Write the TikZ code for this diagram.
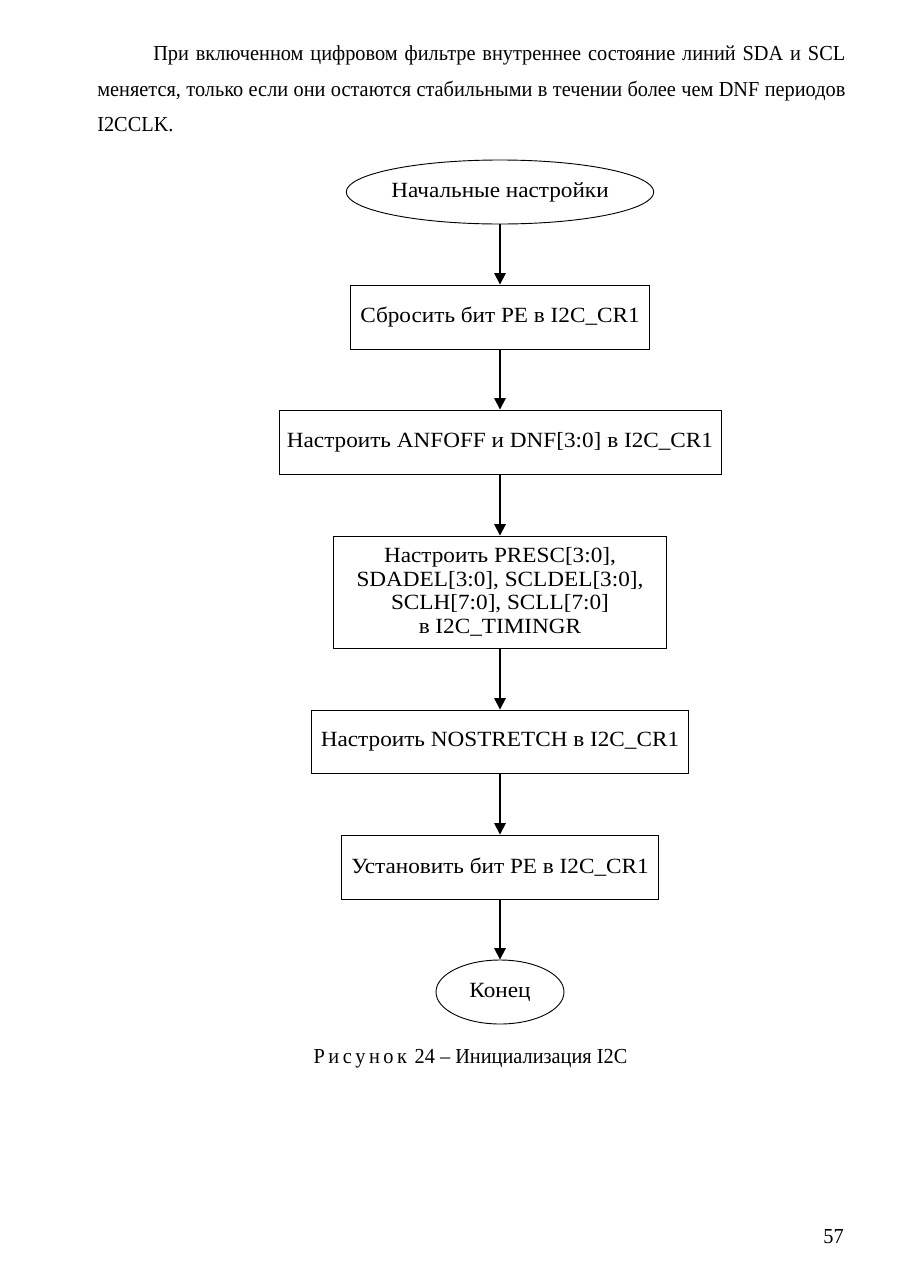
\documentclass[tikz,border=0pt]{standalone}
\usepackage{fontspec}
\setmainfont{Liberation Serif}
\newfontfamily\pagefont[FakeStretch=0.95]{Liberation Serif}
\newfontfamily\flowfont[FakeStretch=1.07]{Liberation Serif}
\usetikzlibrary{shapes.geometric,arrows.meta}
\newcommand\pxu{0.6545pt}
\tikzset{
  pagetext/.style={font=\pagefont\fontsize{14}{17}\selectfont, inner sep=0pt},
  flowbox/.style={draw, line width=0.6pt, rectangle, inner sep=0pt, align=center,
    font=\flowfont\fontsize{14.2}{15.4}\selectfont},
  flowoval/.style={draw, line width=0.6pt, ellipse, inner sep=0pt,
    font=\flowfont\fontsize{14.2}{15.4}\selectfont},
  flowarrow/.style={line width=1.1pt, -{Triangle[length=7.5pt,width=7.5pt]}}
}
\begin{document}
\begin{tikzpicture}[x=0.6545pt,y=-0.6545pt]
\useasboundingbox[fill=white] (0,0) rectangle (910,1287);

% paragraph
\node[pagetext, anchor=base west] (p1) at (153,60)
  {\makebox[452.9pt][s]{При включенном цифровом фильтре внутреннее состояние линий SDA и SCL}};
\node[pagetext, anchor=base west] (p2) at (97,96)
  {\makebox[489.6pt][s]{меняется, только если они остаются стабильными в течении более чем DNF периодов}};
\node[pagetext, anchor=base west] (p3) at (97,131) {I2CCLK.};

% flowchart
\node[flowoval, minimum width=305*\pxu, minimum height=64*\pxu] (start) at (500,192) {Начальные настройки};
\node[flowbox, minimum width=299*\pxu, minimum height=64*\pxu] (b1) at (500,317) {Сбросить бит PE в I2C\_CR1};
\node[flowbox, minimum width=442*\pxu, minimum height=64*\pxu] (b2) at (500,442) {Настроить ANFOFF и DNF[3:0] в I2C\_CR1};
\node[flowbox, minimum width=333*\pxu, minimum height=112*\pxu] (b3) at (500,592)
  {Настроить PRESC[3:0],\\ SDADEL[3:0], SCLDEL[3:0],\\ SCLH[7:0], SCLL[7:0]\\ в I2C\_TIMINGR};
\node[flowbox, minimum width=377*\pxu, minimum height=63*\pxu] (b4) at (500,741.5) {Настроить NOSTRETCH в I2C\_CR1};
\node[flowbox, minimum width=317*\pxu, minimum height=64*\pxu] (b5) at (500,867) {Установить бит PE в I2C\_CR1};
\node[flowoval, minimum width=128*\pxu, minimum height=64*\pxu] (end) at (500,992) {Конец};

\draw[flowarrow] (start) -- (b1);
\draw[flowarrow] (b1) -- (b2);
\draw[flowarrow] (b2) -- (b3);
\draw[flowarrow] (b3) -- (b4);
\draw[flowarrow] (b4) -- (b5);
\draw[flowarrow] (b5) -- (end);

% caption
\node[pagetext, anchor=base] (cap) at (470.5,1063)
  {Р\hspace{2.3pt}и\hspace{2.3pt}с\hspace{2.3pt}у\hspace{2.3pt}н\hspace{2.3pt}о\hspace{2.3pt}к\hspace{5pt}24 – Инициализация I2C};

% page number
\node[pagetext, anchor=base east] (pg) at (844,1243) {57};
\end{tikzpicture}
\end{document}
